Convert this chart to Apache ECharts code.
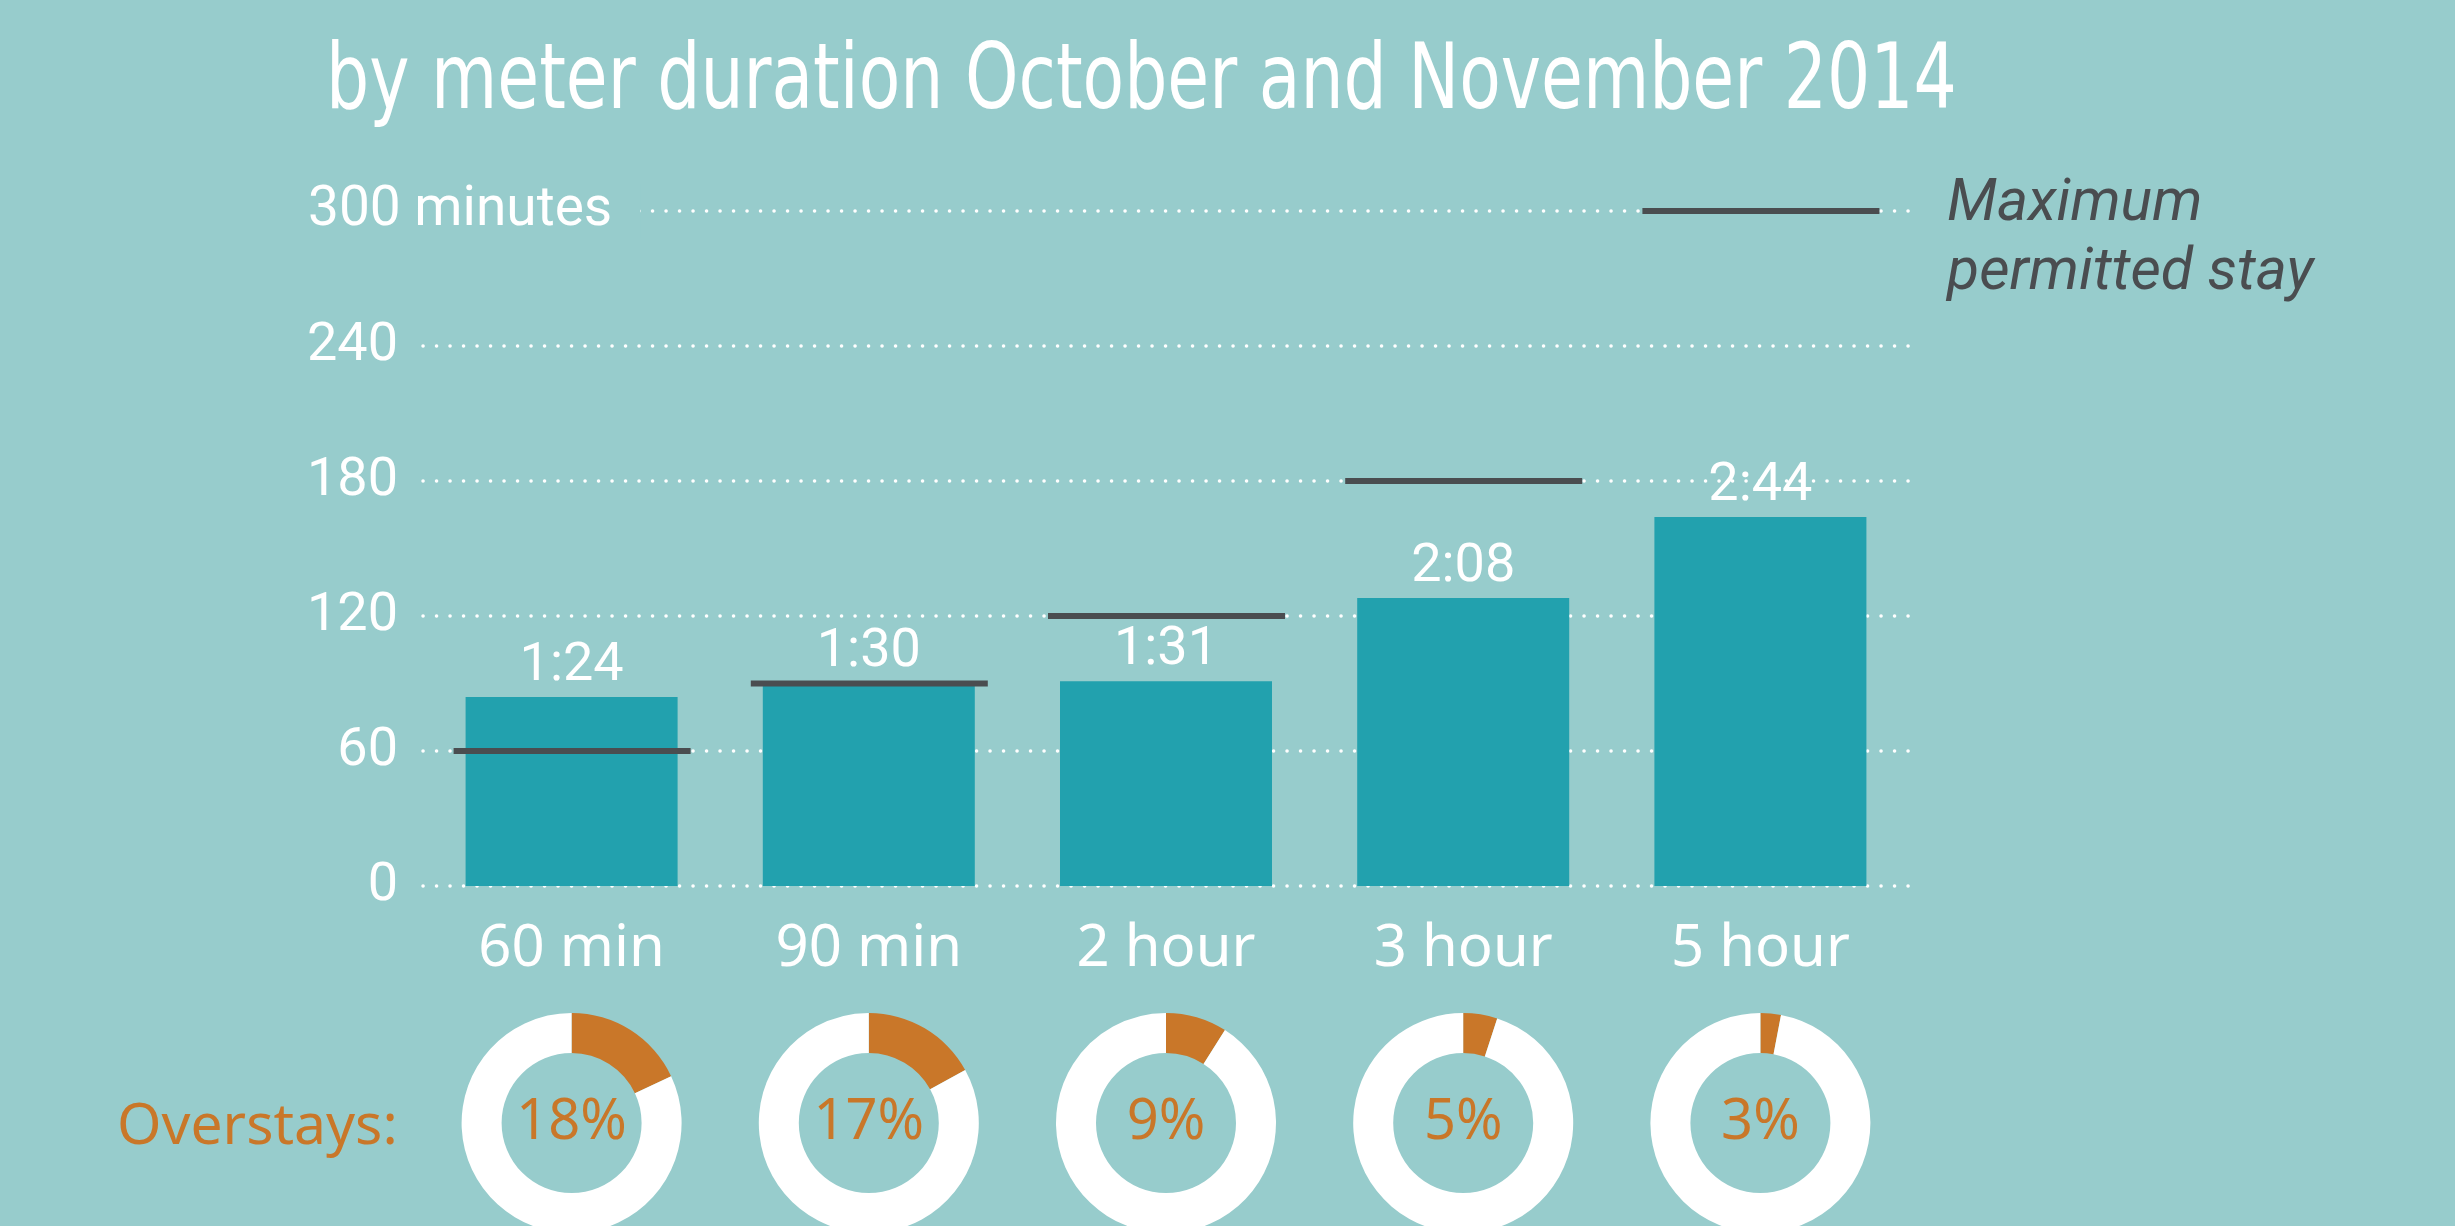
<!DOCTYPE html>
<html>
<head>
<meta charset="utf-8">
<script src="https://cdn.jsdelivr.net/npm/echarts@6/dist/echarts.min.js"></script>
<style>
  html, body { margin: 0; padding: 0; background: #97cccc; }
  #chart { width: 2455px; height: 1226px; }
</style>
</head>
<body>
<div id="chart"></div>
<script>
// data
const categories = ['60 min', '90 min', '2 hour', '3 hour', '5 hour'];
const avgStay = [84, 90, 91, 128, 164];      // minutes (1:24, 1:30, 1:31, 2:08, 2:44)
const maxStay = [60, 90, 120, 180, 300];     // maximum permitted stay, minutes
const overstays = [18, 17, 9, 5, 3];         // percent
const yTicks = [0, 60, 120, 180, 240, 300];

const BG = '#97cccc';
const BAR = '#22a1ae';
const DARK = '#4a4d50';
const ORANGE = '#c97729';

const gridLeft = 423, gridWidth = 1486, gridTop = 211, gridHeight = 675;

const chart = echarts.init(document.getElementById('chart'));

function fmtTime(v) {
  const m = v % 60;
  return Math.floor(v / 60) + ':' + (m < 10 ? '0' + m : m);
}

// one donut under each category
const pies = overstays.map((p, i) => ({
  type: 'pie',
  center: [gridLeft + (i + 0.5) * gridWidth / categories.length, 1123],
  radius: [70, 110],
  startAngle: 90,
  clockwise: true,
  silent: true,
  animation: false,
  labelLine: { show: false },
  emphasis: { disabled: true },
  data: [
    {
      value: p,
      itemStyle: { color: ORANGE },
      label: {
        show: true,
        position: 'center',
        formatter: '{c}%',
        color: ORANGE,
        fontSize: 56,
        fontFamily: 'Noto Sans'
      }
    },
    { value: 100 - p, itemStyle: { color: '#fff' }, label: { show: false } }
  ]
}));

const option = {
  backgroundColor: BG,
  animation: false,
  // subtitle squeezed a bit, the original uses a condensed face
  graphic: [
    {
      type: 'text',
      x: 326,
      y: 40,
      scaleX: 0.84,
      silent: true,
      style: {
        text: 'by meter duration October and November 2014',
        fill: '#fff',
        font: "90px 'DejaVu Sans Condensed', 'DejaVu Sans', Roboto",
        verticalAlign: 'top'
      }
    }
  ],
  title: [
    {
      text: 'Maximum\npermitted stay',
      left: 1942,
      top: 166,
      textStyle: {
        color: DARK,
        fontSize: 59,
        lineHeight: 69,
        fontStyle: 'italic',
        fontWeight: 'normal',
        fontFamily: 'Roboto'
      }
    },
    {
      text: 'Overstays:',
      left: 112,
      top: 1094,
      textStyle: {
        color: ORANGE,
        fontSize: 57,
        fontWeight: 'normal',
        fontFamily: 'Noto Sans'
      }
    }
  ],
  grid: { left: gridLeft, top: gridTop, width: gridWidth, height: gridHeight, containLabel: false },
  xAxis: {
    type: 'category',
    data: categories,
    axisLine: { show: false },
    axisTick: { show: false },
    axisLabel: {
      color: '#fff',
      fontSize: 58,
      fontFamily: 'Noto Sans',
      margin: 34
    }
  },
  yAxis: {
    type: 'value',
    min: 0,
    max: 300,
    interval: 60,
    axisLine: { show: false },
    axisTick: { show: false },
    axisLabel: {
      align: 'left',
      margin: 115,
      formatter: v => v === yTicks[yTicks.length - 1] ? '{m|' + v + ' minutes}' : '{n|' + v + '}',
      rich: {
        n: { width: 90, align: 'right', color: '#fff', fontSize: 54, fontFamily: 'Roboto' },
        m: {
          color: '#fff', fontSize: 55, fontFamily: 'Roboto',
          backgroundColor: BG, padding: [0, 28, 0, 0]
        }
      }
    },
    splitLine: {
      lineStyle: { color: '#fff', width: 3.5, type: [0.1, 13.4], cap: 'round' }
    }
  },
  series: [
    {
      type: 'bar',
      data: avgStay,
      barWidth: 212,
      itemStyle: { color: BAR },
      label: {
        show: true,
        position: 'top',
        distance: 4,
        formatter: p => fmtTime(p.value),
        color: '#fff',
        fontSize: 54,
        fontFamily: 'Roboto'
      },
      silent: true
    },
    {
      type: 'custom',
      data: maxStay.map((v, i) => [i, v]),
      z: 5,
      silent: true,
      renderItem: (params, api) => {
        const pt = api.coord([api.value(0), api.value(1)]);
        return {
          type: 'rect',
          shape: { x: pt[0] - 118, y: pt[1] - 3, width: 237, height: 6 },
          style: { fill: DARK }
        };
      }
    }
  ].concat(pies)
};

chart.setOption(option);
</script>
</body>
</html>
